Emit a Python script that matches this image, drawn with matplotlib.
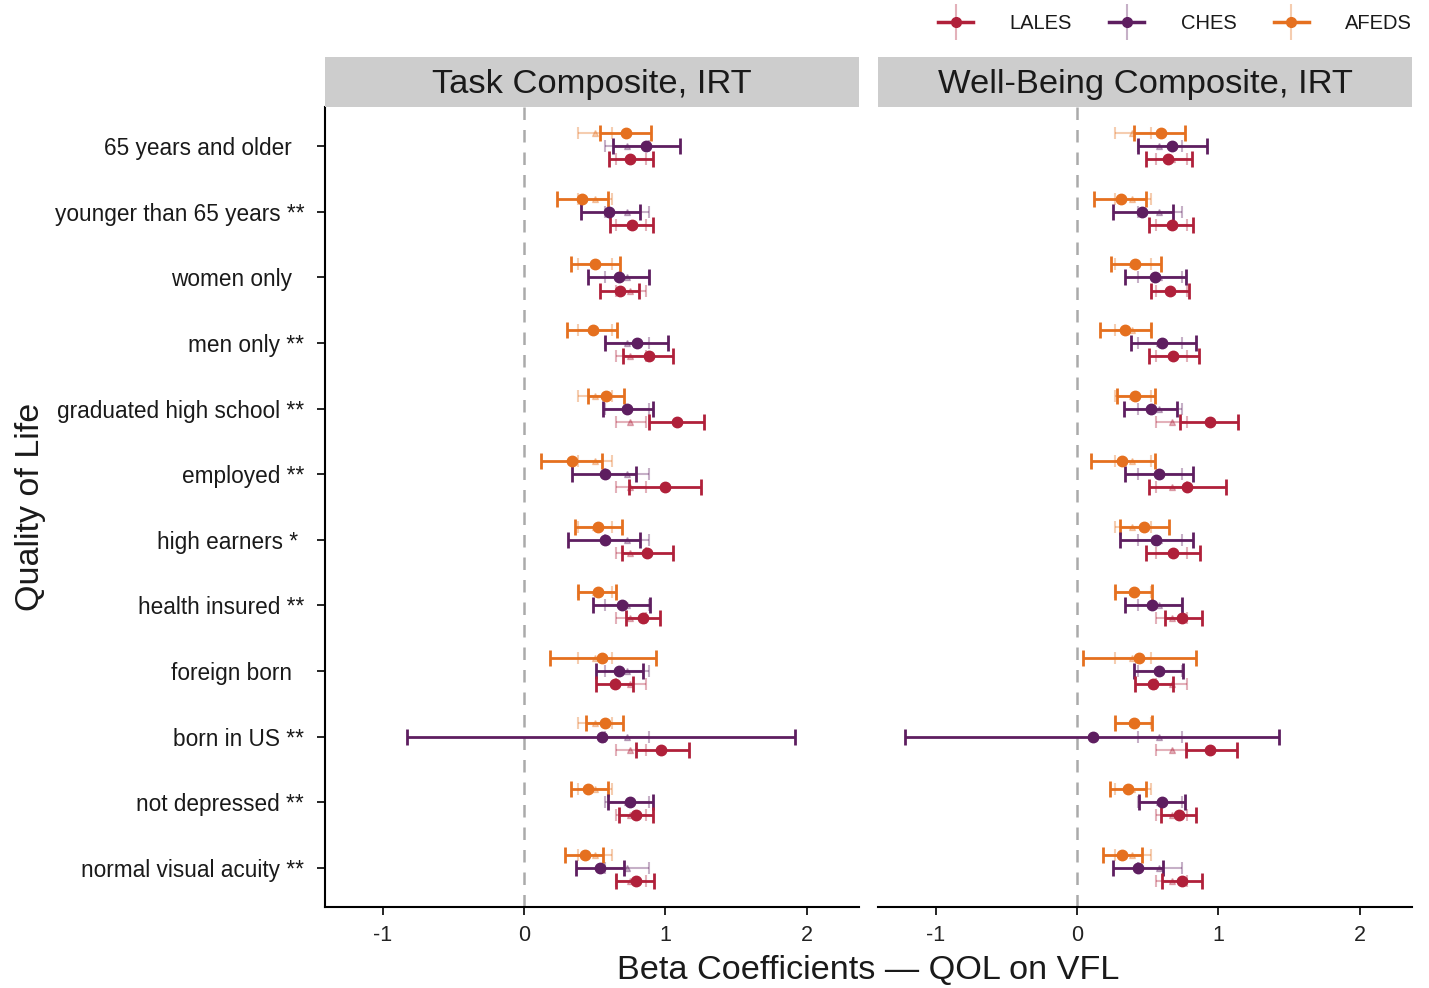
import matplotlib
matplotlib.use("Agg")
import matplotlib.pyplot as plt
from matplotlib.lines import Line2D
from matplotlib.legend_handler import HandlerTuple
import numpy as np

plt.rcParams['font.family'] = ['Liberation Sans', 'DejaVu Sans']

# rows, top to bottom
groups = ["65 years and older  ", "younger than 65 years **", "women only  ",
          "men only **", "graduated high school **", "employed **",
          "high earners * ", "health insured **", "foreign born  ",
          "born in US **", "not depressed **", "normal visual acuity **"]

studies = ["LALES", "CHES", "AFEDS"]
colors = {"LALES": "#B0203A", "CHES": "#5E1E60", "AFEDS": "#E5701F"}

# Task Composite, IRT: (estimate, lower, upper)
task_lales = [(0.75, 0.60, 0.91), (0.76, 0.61, 0.91), (0.68, 0.54, 0.81), (0.88, 0.70, 1.05),
              (1.08, 0.88, 1.27), (1.00, 0.74, 1.25), (0.87, 0.69, 1.05), (0.84, 0.72, 0.96),
              (0.64, 0.51, 0.77), (0.97, 0.79, 1.17), (0.79, 0.67, 0.91), (0.79, 0.65, 0.92)]
task_ches = [(0.86, 0.63, 1.10), (0.60, 0.40, 0.82), (0.67, 0.45, 0.88), (0.80, 0.57, 1.02),
             (0.73, 0.56, 0.91), (0.57, 0.34, 0.79), (0.57, 0.31, 0.82), (0.69, 0.49, 0.89),
             (0.67, 0.51, 0.84), (0.55, -0.83, 1.92), (0.75, 0.59, 0.91), (0.54, 0.37, 0.71)]
task_afeds = [(0.72, 0.54, 0.90), (0.41, 0.23, 0.59), (0.50, 0.33, 0.68), (0.49, 0.30, 0.66),
              (0.58, 0.45, 0.71), (0.34, 0.12, 0.55), (0.52, 0.36, 0.69), (0.52, 0.38, 0.65),
              (0.55, 0.18, 0.93), (0.57, 0.44, 0.70), (0.45, 0.33, 0.59), (0.43, 0.29, 0.56)]

# Well-Being Composite, IRT
wb_lales = [(0.64, 0.49, 0.81), (0.67, 0.51, 0.82), (0.66, 0.52, 0.79), (0.68, 0.51, 0.86),
            (0.94, 0.73, 1.14), (0.78, 0.51, 1.05), (0.68, 0.49, 0.87), (0.74, 0.62, 0.88),
            (0.54, 0.41, 0.68), (0.94, 0.77, 1.13), (0.72, 0.59, 0.84), (0.74, 0.60, 0.88)]
wb_ches = [(0.67, 0.43, 0.92), (0.46, 0.25, 0.68), (0.55, 0.34, 0.77), (0.60, 0.38, 0.84),
           (0.52, 0.33, 0.71), (0.58, 0.34, 0.82), (0.56, 0.30, 0.82), (0.53, 0.34, 0.74),
           (0.58, 0.40, 0.75), (0.11, -1.22, 1.43), (0.60, 0.44, 0.76), (0.43, 0.25, 0.61)]
wb_afeds = [(0.59, 0.40, 0.76), (0.31, 0.12, 0.49), (0.41, 0.24, 0.59), (0.34, 0.16, 0.52),
            (0.41, 0.28, 0.55), (0.32, 0.10, 0.55), (0.47, 0.30, 0.65), (0.40, 0.27, 0.53),
            (0.44, 0.04, 0.84), (0.40, 0.27, 0.53), (0.36, 0.23, 0.49), (0.32, 0.18, 0.46)]

# full-sample estimates (faded reference, same in every row)
task_full = {"LALES": (0.75, 0.65, 0.86), "CHES": (0.73, 0.57, 0.88), "AFEDS": (0.50, 0.38, 0.62)}
wb_full = {"LALES": (0.67, 0.56, 0.78), "CHES": (0.58, 0.43, 0.74), "AFEDS": (0.39, 0.27, 0.52)}

panels = [("Task Composite, IRT", {"LALES": task_lales, "CHES": task_ches, "AFEDS": task_afeds}, task_full),
          ("Well-Being Composite, IRT", {"LALES": wb_lales, "CHES": wb_ches, "AFEDS": wb_afeds}, wb_full)]

offsets = {"AFEDS": -0.2, "CHES": 0.0, "LALES": 0.2}

fig = plt.figure(figsize=(14.29, 9.88), dpi=100)
W, H = 1429, 988
lefts = [325, 878]
pw = 534
top, bottom = 107, 907
text_col = "#1a1a1a"

ypos = np.arange(len(groups))
for i, (title, data, full) in enumerate(panels):
    ax = fig.add_axes([lefts[i] / W, 1 - bottom / H, pw / W, (bottom - top) / H])
    ax.axvline(0, color="#aaaaaa", lw=1.8, ls=(0, (5, 4)), zorder=1)
    for s in ["AFEDS", "CHES", "LALES"]:
        y = ypos + offsets[s]
        c = colors[s]
        # faded full-sample layer
        fe, fl, fh = full[s]
        ax.errorbar([fe] * len(y), y, xerr=[[fe - fl] * len(y), [fh - fe] * len(y)],
                    fmt="^", color=c, alpha=0.35, ms=4, lw=1.5, capsize=4, capthick=1.5, zorder=2)
        est = np.array([d[0] for d in data[s]])
        lo = np.array([d[1] for d in data[s]])
        hi = np.array([d[2] for d in data[s]])
        ax.errorbar(est, y, xerr=[est - lo, hi - est], fmt="o", color=c, ms=7.5,
                    lw=2, capsize=5.5, capthick=2, zorder=3)
    ax.set_xlim(-1.41, 2.37)
    ax.set_ylim(11.6, -0.6)
    ax.set_xticks([-1, 0, 1, 2])
    ax.set_xticklabels(["-1", "0", "1", "2"])
    ax.tick_params(axis="x", labelsize=15.5, length=6, width=1.2, colors="black",
                   labelcolor="#222222", pad=7)
    for sp in ["top", "right"]:
        ax.spines[sp].set_visible(False)
    ax.spines["bottom"].set_linewidth(1.5)
    if i == 0:
        ax.set_yticks(ypos)
        ax.set_yticklabels(groups)
        ax.tick_params(axis="y", labelsize=16.3, length=6, width=1.2, labelcolor=text_col, pad=9)
        ax.spines["left"].set_linewidth(1.5)
        ax.set_ylabel("Quality of Life", fontsize=24.5, color=text_col, labelpad=6)
    else:
        ax.spines["left"].set_visible(False)
        ax.set_yticks([])
    # strip header
    sax = fig.add_axes([lefts[i] / W, 1 - 107 / H, pw / W, 50 / H])
    sax.set_facecolor("#cdcdcd")
    sax.set_xticks([])
    sax.set_yticks([])
    for sp in sax.spines.values():
        sp.set_visible(False)
    sax.text(0.5, 0.44, title, ha="center", va="center", fontsize=24.8, color=text_col,
             transform=sax.transAxes)

fig.text((325 + 1412) / 2 / W, 1 - 970 / H, "Beta Coefficients \u2014 QOL on VFL",
         ha="center", va="center", fontsize=24.7, color=text_col)

# legend
handles = []
for s in studies:
    c = colors[s]
    h1 = Line2D([], [], color=c, marker="o", ms=7, lw=2.5)
    h2 = Line2D([], [], color=c, alpha=0.35, marker="|", ms=26, mew=1.5, ls="none")
    handles.append((h2, h1))
fig.legend(handles, studies, handler_map={tuple: HandlerTuple(ndivide=1)},
           loc="upper right", bbox_to_anchor=(1430 / W, 1 + 4 / H), ncol=3, frameon=False,
           fontsize=14.5, handlelength=1.75, columnspacing=1.85, handletextpad=1.8,
           labelcolor=text_col)

fig.savefig("out.png", dpi=100, facecolor="white")
